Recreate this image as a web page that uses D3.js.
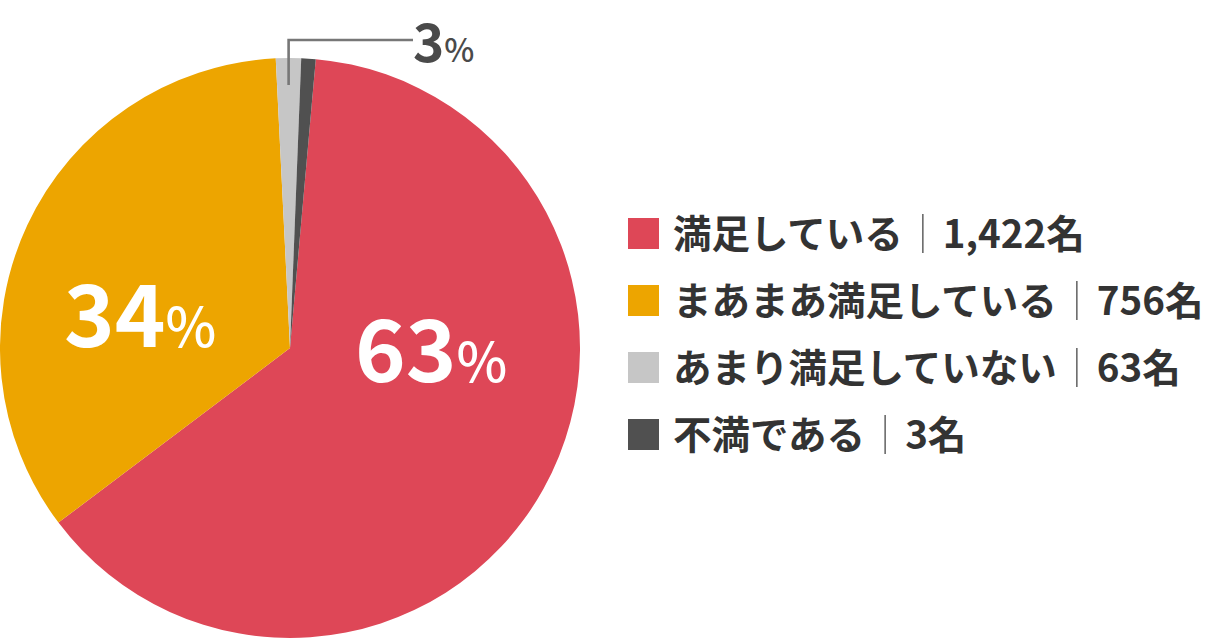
<!DOCTYPE html>
<html>
<head>
<meta charset="utf-8">
<script src="https://cdn.jsdelivr.net/npm/d3@7"></script>
<style>
  html, body { margin: 0; padding: 0; background: #fff; }
  svg { display: block; font-family: "Noto Sans CJK JP", "Noto Sans", sans-serif; }
</style>
</head>
<body>
<svg id="chart"></svg>
<script>
// data
const categories = ["満足している", "まあまあ満足している", "あまり満足していない", "不満である"];
const counts = [1422, 756, 63, 3];
// slice shares as drawn in the picture (%)
const shares = [63.3, 34.5, 1.4, 0.8];
const colors = ["#de4757", "#eda500", "#c6c6c6", "#505050"];
const pctLabels = ["63", "34", "3"];

const width = 1210;
const height = 640;
const cx = 290;
const cy = 348;
const radius = 290;

const svg = d3.select("#chart").attr("width", width).attr("height", height);

// 円グラフ
const startDeg = 5.1;
const pie = d3.pie()
  .sort(null)
  .value((d) => d)
  .startAngle(startDeg * Math.PI / 180)
  .endAngle(startDeg * Math.PI / 180 + Math.PI * 2);

const arc = d3.arc().innerRadius(0).outerRadius(radius);
const arcs = pie(shares);

const g = svg.append("g").attr("transform", `translate(${cx},${cy})`);
g.selectAll("path")
  .data(arcs)
  .enter()
  .append("path")
  .attr("d", arc)
  .attr("fill", (d, i) => colors[i]);

// 3% のリード線 (あまり満足していない の中央から)
const grayMid = (arcs[2].startAngle + arcs[2].endAngle) / 2;
const lx = cx + Math.sin(grayMid) * (radius - 25);
svg.append("polyline")
  .attr("points", [[lx, 85], [lx, 40], [413, 40]].map((p) => p.join(",")).join(" "))
  .attr("fill", "none")
  .attr("stroke", "#777")
  .attr("stroke-width", 2.6);

// パーセント表示
function pctText(x, y, num, bigSize, smallSize, color) {
  const t = svg.append("text")
    .attr("x", x)
    .attr("y", y)
    .attr("fill", color);
  t.append("tspan").attr("font-size", bigSize).attr("font-weight", 700).text(num);
  t.append("tspan").attr("font-size", smallSize).attr("font-weight", 500).text("%");
}
pctText(355, 382, pctLabels[0], 86, 54, "#fff");
pctText(64, 347, pctLabels[1], 86, 54, "#fff");
pctText(413, 62, pctLabels[2], 53, 32, "#4a4a4a");

// 凡例
const fontSize = 38.5;
const legend = svg.append("g").attr("transform", "translate(628, 233.5)");
const rowGap = 67;
const rows = legend.selectAll("g")
  .data(categories)
  .enter()
  .append("g")
  .attr("transform", (d, i) => `translate(0, ${i * rowGap})`);

rows.append("rect")
  .attr("x", 0)
  .attr("y", -15.5)
  .attr("width", 31)
  .attr("height", 31)
  .attr("fill", (d, i) => colors[i]);

rows.each(function (d, i) {
  const row = d3.select(this);
  const label = row.append("text")
    .attr("x", 45)
    .attr("y", fontSize * 0.37)
    .attr("font-size", fontSize)
    .attr("font-weight", 700)
    .attr("fill", "#333")
    .text(d);
  const lw = label.node().getComputedTextLength();
  const sepX = 45 + lw + 20;
  row.append("line")
    .attr("x1", sepX).attr("x2", sepX)
    .attr("y1", -19.5).attr("y2", 19.5)
    .attr("stroke", "#555")
    .attr("stroke-width", 1.4);
  row.append("text")
    .attr("x", sepX + 20)
    .attr("y", fontSize * 0.37)
    .attr("font-size", fontSize)
    .attr("font-weight", 700)
    .attr("fill", "#333")
    .text(d3.format(",")(counts[i]) + "名");
});
</script>
</body>
</html>
